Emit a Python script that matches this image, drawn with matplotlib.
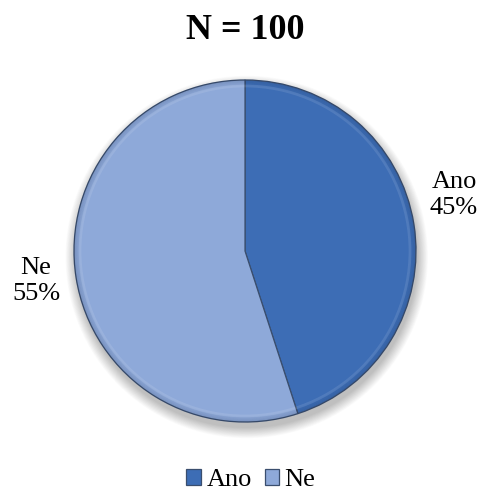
import numpy as np
import matplotlib
matplotlib.use("Agg")
import matplotlib.pyplot as plt
from matplotlib.patches import Circle

plt.rcParams['font.family'] = ['Liberation Serif', 'DejaVu Serif']

title = "N = 100"
categories = ["Ano", "Ne"]
shares = [45, 55]
colors = ["#3D6DB5", "#8EA9D9"]

W, H = 480, 491
fig = plt.figure(figsize=(W / 100, H / 100), dpi=100)
ax = fig.add_axes([0, 0, 1, 1])
cx, cy, r = 245, 251, 171


def to_data(px, py):
    return (px - cx) / r, (cy - py) / r


# soft drop shadow under the disc
for i in range(16):
    rr = 1.0 + 0.004 * i
    ax.add_patch(Circle((0.01, -0.035), rr, color='black', alpha=0.016, lw=0, zorder=0))

wedges, _ = ax.pie(shares, colors=colors, startangle=90, counterclock=False,
                   radius=1.0, center=(0, 0),
                   wedgeprops=dict(edgecolor='#3A4E6E', linewidth=0.9))

# bevelled rim: shading that darkens towards the outer edge
for i in range(8):
    ax.add_patch(Circle((0, 0), 1.0 - 0.004 * i, fill=False, ec='#1F3050',
                        lw=1.0, alpha=0.10 - 0.011 * i, zorder=5))
ax.add_patch(Circle((0, 0), 0.965, fill=False, ec='white', lw=2.0, alpha=0.10, zorder=5))

ax.set_xlim(-cx / r, (W - cx) / r)
ax.set_ylim((cy - H) / r, cy / r)
ax.set_aspect('equal')
ax.axis('off')

# labels outside the pie
lx, ly = to_data(454, 195)
ax.text(lx, ly, f"{categories[0]}\n{shares[0]}%", ha='center', va='center',
        fontsize=19, linespacing=1.2)
lx, ly = to_data(36, 281)
ax.text(lx, ly, f"{categories[1]}\n{shares[1]}%", ha='center', va='center',
        fontsize=19, linespacing=1.2)

tx, ty = to_data(245, 31)
ax.text(tx, ty, title, ha='center', va='center', fontsize=26, fontweight='bold')

leg = ax.legend(wedges, categories, loc='center', bbox_to_anchor=(251 / W, 1 - 480 / H),
                bbox_transform=fig.transFigure, ncol=2, frameon=False, fontsize=19,
                handlelength=0.55, handleheight=0.55, handletextpad=0.2, columnspacing=0.5)

fig.savefig("out.png", dpi=100)
